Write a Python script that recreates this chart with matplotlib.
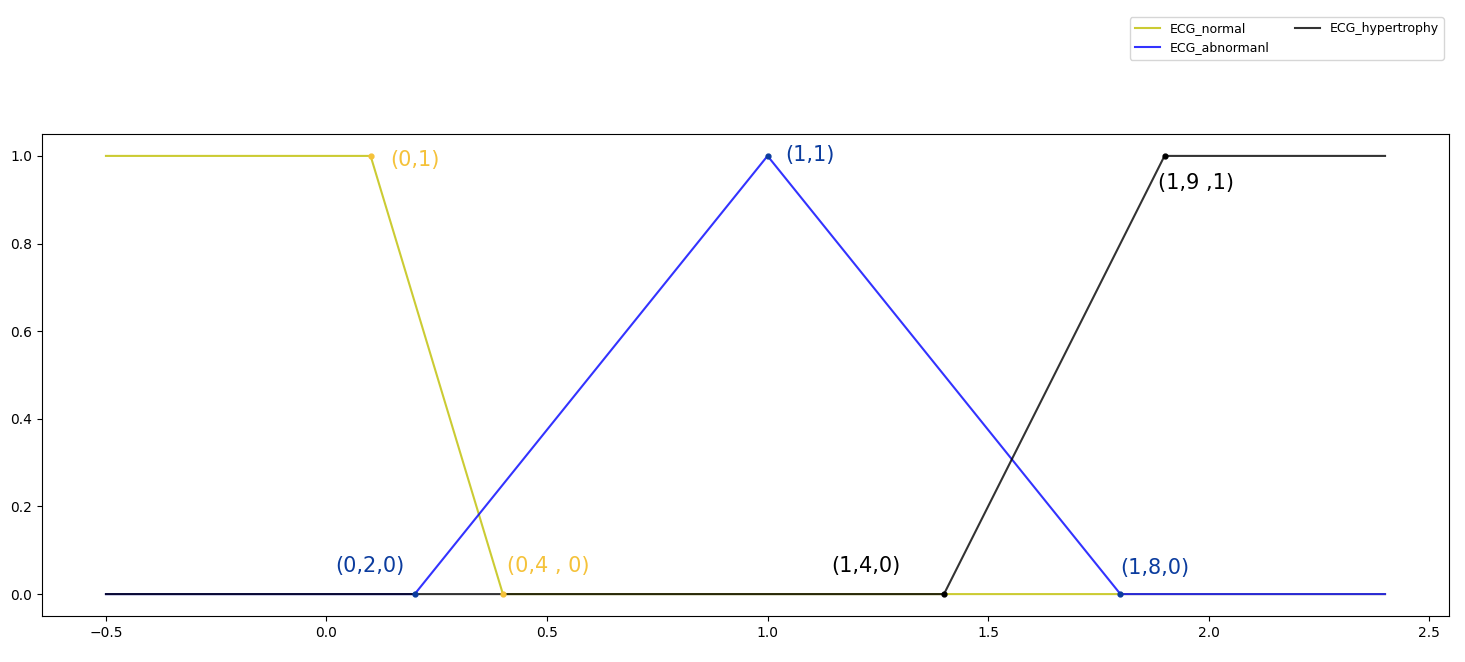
import numpy as np
import matplotlib
matplotlib.use("Agg")
import matplotlib.pyplot as plt

# Membership function breakpoints
normal_x = [-0.5, 0.1, 0.4, 2.4]
normal_y = [1.0, 1.0, 0.0, 0.0]
abnormal_x = [-0.5, 0.2, 1.0, 1.8, 2.4]
abnormal_y = [0.0, 0.0, 1.0, 0.0, 0.0]
hyper_x = [-0.5, 1.4, 1.9, 2.4]
hyper_y = [0.0, 0.0, 1.0, 1.0]

# Hand-written annotations: (label, point x, point y, text x, text y, colour)
ann_labels = ["(0,1)", "(0,4 , 0)", "(1,1)", "(0,2,0)", "(1,8,0)", "(1,4,0)", "(1,9 ,1)"]
ann_px = [0.1, 0.4, 1.0, 0.2, 1.8, 1.4, 1.9]
ann_py = [1.0, 0.0, 1.0, 0.0, 0.0, 0.0, 1.0]
ann_tx = [0.145, 0.41, 1.04, 0.02, 1.80, 1.145, 1.885]
ann_ty = [0.991, 0.064, 1.002, 0.064, 0.06, 0.064, 0.938]
ann_colors = ["#f5c23a", "#f5c23a", "#0b3c9e", "#0b3c9e", "#0b3c9e", "#000000", "#000000"]

fig = plt.figure(figsize=(14.65, 6.62), dpi=100)
ax = fig.add_axes([42/1465, 1-616/662, (1449-42)/1465, (616-134)/662])

ax.plot(normal_x, normal_y, color='y', alpha=0.8, linewidth=1.5, label='ECG_normal')
ax.plot(abnormal_x, abnormal_y, color='b', alpha=0.8, linewidth=1.5, label='ECG_abnormanl')
ax.plot(hyper_x, hyper_y, color='k', alpha=0.8, linewidth=1.5, label='ECG_hypertrophy')

for lab, px, py, tx, ty, c in zip(ann_labels, ann_px, ann_py, ann_tx, ann_ty, ann_colors):
    ax.plot([px], [py], 'o', color=c, markersize=3.5, zorder=5)
    ax.text(tx, ty, lab, color=c, fontsize=15, ha='left', va='center')

ax.legend(loc='upper right', bbox_to_anchor=(1450/1465, 1-11/662),
          bbox_transform=fig.transFigure, ncol=2, fontsize=9)

fig.savefig("out.png", dpi=100)
